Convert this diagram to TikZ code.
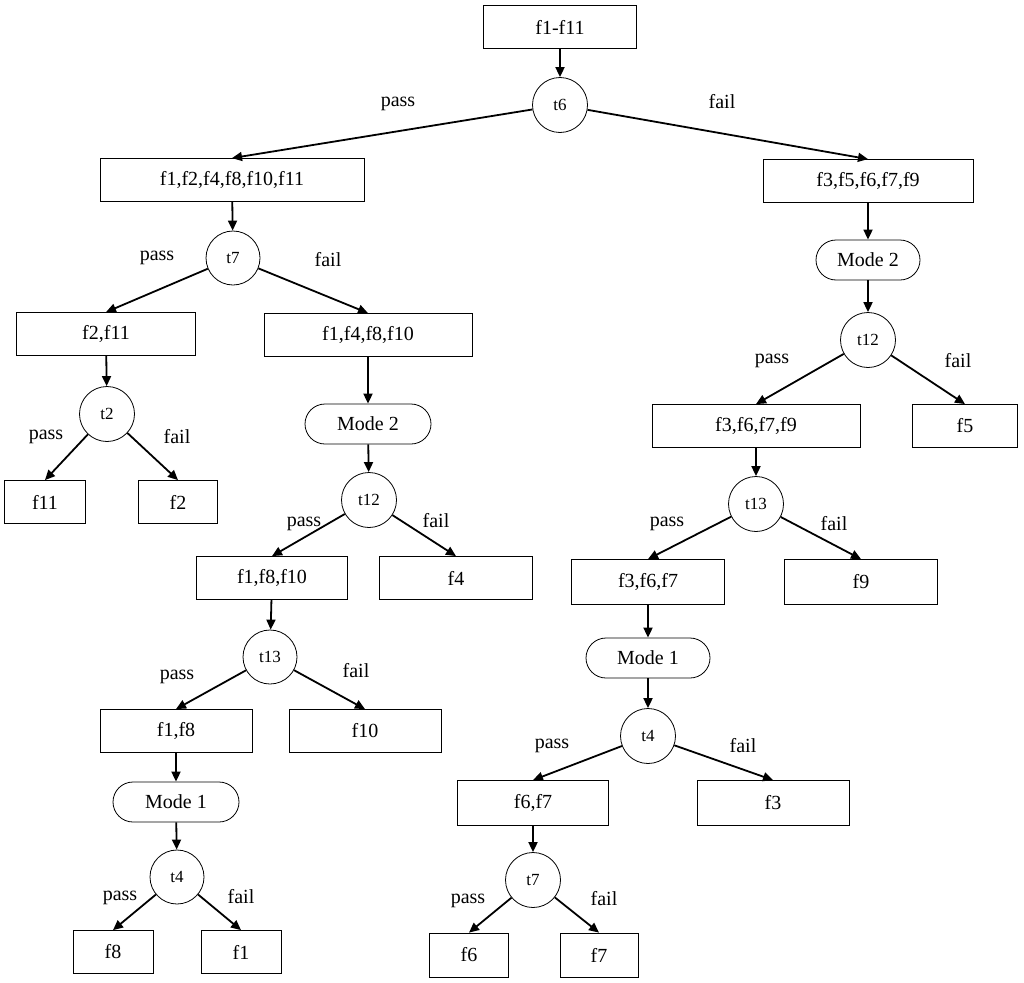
\documentclass[tikz,border=0pt]{standalone}
\usepackage{fontspec}
\setmainfont{Liberation Serif}
\usetikzlibrary{arrows.meta}
\begin{document}
\begin{tikzpicture}[x=1pt,y=-1pt,
 bx/.style={draw,line width=0.8pt,minimum height=43pt,inner sep=0pt,font=\fontsize{20}{22}\selectfont},
 cc/.style={draw,circle,line width=0.8pt,minimum size=55pt,inner sep=0pt,font=\fontsize{17}{20}\selectfont},
 md/.style={draw,rounded corners=20pt,line width=0.8pt,minimum height=40pt,inner sep=0pt,font=\fontsize{20}{22}\selectfont},
 ar/.style={line width=1.8pt,-{Triangle[length=10pt,width=9pt]}},
 lb/.style={font=\fontsize{20}{22}\selectfont}]
\useasboundingbox (0,0) rectangle (1024,982);
\node[bx,minimum width=153pt] (b0) at (560,27) {f1-f11};
\node[cc] (t6) at (560,105) {t6};
\node[bx,minimum width=264pt] (bL) at (232,180) {f1,f2,f4,f8,f10,f11};
\node[bx,minimum width=210pt] (bR) at (868,181) {f3,f5,f6,f7,f9};
\node[cc,minimum size=54pt] (t7a) at (233,258) {t7};
\node[md,minimum width=104pt] (m2r) at (868,260) {Mode 2};
\node[bx,minimum width=179pt] (b211) at (106,334) {f2,f11};
\node[bx,minimum width=208pt] (b14810) at (368,335) {f1,f4,f8,f10};
\node[cc] (t12r) at (868,340) {t12};
\node[cc] (t2) at (107,414) {t2};
\node[md,minimum width=126pt] (m2l) at (368,424) {Mode 2};
\node[bx,minimum width=208pt] (b3679) at (756,426) {f3,f6,f7,f9};
\node[bx,minimum width=105pt] (b5) at (965,426) {f5};
\node[bx,minimum width=81pt] (b11) at (45,502) {f11};
\node[bx,minimum width=79pt] (b2) at (178,502) {f2};
\node[cc] (t12l) at (369,500) {t12};
\node[cc] (t13r) at (756,504) {t13};
\node[bx,minimum width=151pt] (b1810) at (272,578) {f1,f8,f10};
\node[bx,minimum width=153pt] (b4) at (456,578) {f4};
\node[bx,minimum width=153pt,minimum height=45pt] (b367) at (648,582) {f3,f6,f7};
\node[bx,minimum width=153pt,minimum height=45pt] (b9) at (861,582) {f9};
\node[cc,minimum size=54pt] (t13l) at (270,657) {t13};
\node[md,minimum width=124pt] (m1r) at (648,658) {Mode 1};
\node[bx,minimum width=152pt] (b18) at (176,731) {f1,f8};
\node[bx,minimum width=152pt] (b10) at (365,731) {f10};
\node[cc] (t4r) at (648,736) {t4};
\node[md,minimum width=126pt] (m1l) at (176,802) {Mode 1};
\node[bx,minimum width=151pt,minimum height=45pt] (b67) at (533,803) {f6,f7};
\node[bx,minimum width=152pt,minimum height=45pt] (b3) at (773,803) {f3};
\node[cc,minimum size=54pt] (t4l) at (177,877) {t4};
\node[cc] (t7b) at (533,880) {t7};
\node[bx,minimum width=80pt] (b8) at (113,952) {f8};
\node[bx,minimum width=80pt] (b1) at (241,952) {f1};
\node[bx,minimum width=79pt,minimum height=44pt] (b6) at (469,955) {f6};
\node[bx,minimum width=78pt,minimum height=44pt] (b7) at (599,955) {f7};
% arrows
\draw[ar] (b0) -- (t6);
\draw[ar] (t6) -- (bL.north);
\draw[ar] (t6) -- (bR.north);
\draw[ar] (bL) -- (t7a);
\draw[ar] (bR) -- (m2r);
\draw[ar] (m2r) -- (t12r);
\draw[ar] (t7a) -- (b211.north);
\draw[ar] (t7a) -- (b14810.north);
\draw[ar] (b211) -- (t2);
\draw[ar] (b14810) -- (m2l);
\draw[ar] (t12r) -- (b3679.north);
\draw[ar] (t12r) -- (b5.north);
\draw[ar] (t2) -- (b11.north);
\draw[ar] (t2) -- (b2.north);
\draw[ar] (m2l) -- (t12l);
\draw[ar] (b3679) -- (t13r);
\draw[ar] (t12l) -- (b1810.north);
\draw[ar] (t12l) -- (b4.north);
\draw[ar] (t13r) -- (b367.north);
\draw[ar] (t13r) -- (b9.north);
\draw[ar] (b1810) -- (t13l);
\draw[ar] (b367) -- (m1r);
\draw[ar] (t13l) -- (b18.north);
\draw[ar] (t13l) -- (b10.north);
\draw[ar] (m1r) -- (t4r);
\draw[ar] (b18) -- (m1l);
\draw[ar] (t4r) -- (b67.north);
\draw[ar] (t4r) -- (b3.north);
\draw[ar] (m1l) -- (t4l);
\draw[ar] (b67) -- (t7b);
\draw[ar] (t4l) -- (b8.north);
\draw[ar] (t4l) -- (b1.north);
\draw[ar] (t7b) -- (b6.north);
\draw[ar] (t7b) -- (b7.north);
% labels
\node[lb] (l1) at (398,104) {pass}; \node[lb] (l2) at (722,102) {fail};
\node[lb] (l3) at (157,258) {pass}; \node[lb] (l4) at (328,260) {fail};
\node[lb] (l5) at (772,361) {pass}; \node[lb] (l6) at (958,361) {fail};
\node[lb] (l7) at (46,437) {pass}; \node[lb] (l8) at (177,437) {fail};
\node[lb] (l9) at (304,524) {pass}; \node[lb] (l10) at (436,521) {fail};
\node[lb] (l11) at (667,524) {pass}; \node[lb] (l12) at (834,524) {fail};
\node[lb] (l13) at (177,677) {pass}; \node[lb] (l14) at (356,671) {fail};
\node[lb] (l15) at (552,746) {pass}; \node[lb] (l16) at (743,746) {fail};
\node[lb] (l17) at (120,898) {pass}; \node[lb] (l18) at (241,897) {fail};
\node[lb] (l19) at (468,901) {pass}; \node[lb] (l20) at (604,899) {fail};
\end{tikzpicture}
\end{document}
